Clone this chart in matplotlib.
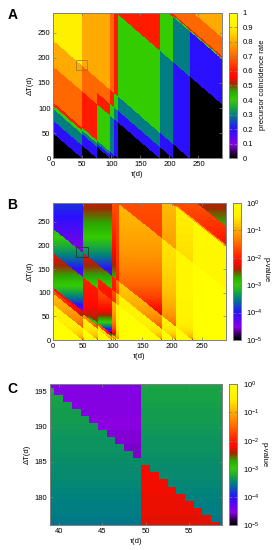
import numpy as np
import matplotlib
matplotlib.use('Agg')
import matplotlib.pyplot as plt
from matplotlib.colors import LinearSegmentedColormap, LogNorm, Normalize
from matplotlib.patches import Rectangle

plt.rcParams['font.family'] = ['Liberation Sans', 'DejaVu Sans']
plt.rcParams['mathtext.fontset'] = 'custom'
plt.rcParams['mathtext.rm'] = 'Liberation Sans'
plt.rcParams['mathtext.it'] = 'Liberation Sans'
plt.rcParams['mathtext.default'] = 'regular'

lags = [49.5, 75, 98, 105, 111, 183, 206, 234.5, 398, 488, 491, 494, 531]

# coincidence rate: row = how many lags lie below tau, column = how many lags lie below tau+dT
rate_table = [
    [0, .2, .3, .4, .6, .7, .8, .8, .9, .9, .9, .9, .9, .9],
    [0, 0, .2, .3, .4, .6, .7, .7, .8, .8, .8, .8, .8, .8],
    [0, 0, 0, .2, .3, .4, .6, .7, .8, .8, .8, .8, .8, .8],
    [0, 0, 0, 0, .2, .3, .4, .6, .7, .7, .7, .7, .7, .7],
    [0, 0, 0, 0, 0, .2, .3, .4, .6, .6, .6, .6, .6, .6],
    [0, 0, 0, 0, 0, 0, .2, .3, .4, .6, .6, .6, .6, .6],
    [0, 0, 0, 0, 0, 0, 0, .2, .3, .4, .6, .6, .6, .6],
    [0, 0, 0, 0, 0, 0, 0, 0, .2, .3, .4, .6, .7, .8],
    [0, 0, 0, 0, 0, 0, 0, 0, 0, .2, .4, .6, .7, .8],
]

# log10 p-value at dT = 200 d for each rate level, and how fast it grows for shorter windows
rate_levels = [0, .2, .3, .4, .6, .7, .8, .9]
logp_at_200 = [0, -0.25, -0.6, -1.1, -1.8, -2.1, -3.2, -4.45]
logp_exp = [0, 0.4, 0.5, 0.6, 0.2, 0.65, 0.8, 0.4]
dt_ref = 200.0

rate_ticks = [0, .1, .2, .3, .4, .5, .6, .7, .8, .9, 1]
rate_ticklabels = ['0', '0.1', '0.2', '0.3', '0.4', '0.5', '0.6', '0.7', '0.8', '0.9', '1']
p_ticks = [1e-5, 1e-4, 1e-3, 1e-2, 1e-1, 1]
p_ticklabels = ['$10^{-5}$', '$10^{-4}$', '$10^{-3}$', '$10^{-2}$', '$10^{-1}$', '$10^{0}$']

palette = LinearSegmentedColormap.from_list('pal', [
    (0.00, '#000000'), (0.04, '#300050'), (0.09, '#8a00e0'), (0.20, '#2a10ff'),
    (0.30, '#008080'), (0.40, '#33cc00'), (0.46, '#2aa800'), (0.51, '#a02800'),
    (0.56, '#ff0800'), (0.60, '#ff1a00'), (0.70, '#ff6600'), (0.80, '#ffaa00'),
    (0.90, '#fff000'), (1.00, '#ffff00')])

lag_arr = np.array(lags)
rt = np.array(rate_table)


def rate_field(tau, dT):
    ci = np.searchsorted(lag_arr, tau, side='left')
    bi = np.searchsorted(lag_arr, tau + dT, side='right')
    return rt[ci, bi]


def p_field(rate, dT):
    idx = np.searchsorted(np.array(rate_levels), rate - 1e-6)
    lp = np.array(logp_at_200)[idx] * (np.maximum(dT, 1) / dt_ref) ** (-np.array(logp_exp)[idx])
    return 10 ** np.clip(lp, -5, 0)


tau = np.arange(0, 290.5, 0.5)
dT = np.arange(0, 290.5, 0.5)
TT, DD = np.meshgrid(tau, dT)
R = rate_field(TT, DD)
P = p_field(R, DD)

tauc = np.arange(39, 60)
dTc = np.arange(176, 197)
TC, DC = np.meshgrid(tauc, dTc)
PC = p_field(rate_field(TC, DC), DC.astype(float))

fig = plt.figure(figsize=(2.74, 5.5), dpi=100)
fs = 5.5
grey = '#808080'


def style(ax):
    for s in ax.spines.values():
        s.set_color(grey)
        s.set_linewidth(0.7)
    ax.tick_params(direction='in', length=2, width=0.5, color=grey, labelsize=fs,
                   top=True, right=True, pad=2)


def style_cb(cax):
    for s in cax.spines.values():
        s.set_color(grey)
        s.set_linewidth(0.7)
    cax.tick_params(direction='in', length=2, width=0.5, color=grey, labelsize=fs,
                    left=True, right=True, labelright=True, labelleft=False, pad=4)


# ---- A
axA = fig.add_axes([0.1945, 0.7122, 0.6146, 0.2647])
imA = axA.pcolormesh(tau, dT, R, cmap=palette, norm=Normalize(0, 1), shading='nearest',
                     rasterized=True)
axA.set_xlim(0, 290)
axA.set_ylim(0, 290)
axA.set_xticks([0, 50, 100, 150, 200, 250])
axA.set_yticks([0, 50, 100, 150, 200, 250])
axA.add_patch(Rectangle((39, 176), 19.7, 20, fill=False, ec='#8a7050', lw=0.6, alpha=0.8))
style(axA)
axA.set_xlabel('τ(d)', fontsize=fs, labelpad=2)
axA.set_ylabel('ΔT(d)', fontsize=fs, labelpad=3)
caxA = fig.add_axes([0.8369, 0.7122, 0.027, 0.2647])
cbA = fig.colorbar(imA, cax=caxA)
cbA.set_ticks(rate_ticks)
cbA.set_ticklabels(rate_ticklabels)
cbA.outline.set_edgecolor(grey)
style_cb(caxA)
fig.text(0.957, 0.845, 'precursor coincidence rate', rotation=90, fontsize=fs,
         ha='center', va='center')
fig.text(0.047, 0.973, 'A', fontsize=10, fontweight='bold', ha='center', va='center')

# ---- B
axB = fig.add_axes([0.1945, 0.3818, 0.629, 0.2496])
imB = axB.pcolormesh(tau, dT, P, cmap=palette, norm=LogNorm(1e-5, 1), shading='nearest',
                     rasterized=True)
axB.set_xlim(0, 290)
axB.set_ylim(0, 290)
axB.set_xticks([0, 50, 100, 150, 200, 250])
axB.set_yticks([0, 50, 100, 150, 200, 250])
axB.add_patch(Rectangle((39, 176), 19.7, 20, fill=False, ec='#204030', lw=0.6))
style(axB)
axB.set_xlabel('τ(d)', fontsize=fs, labelpad=2)
axB.set_ylabel('ΔT(d)', fontsize=fs, labelpad=3)
caxB = fig.add_axes([0.849, 0.3818, 0.029, 0.2496])
cbB = fig.colorbar(imB, cax=caxB)
cbB.set_ticks(p_ticks)
cbB.set_ticklabels(p_ticklabels)
cbB.minorticks_off()
cbB.outline.set_edgecolor(grey)
style_cb(caxB)
fig.text(0.972, 0.51, 'p-value', rotation=270, fontsize=fs, ha='center', va='center')
fig.text(0.046, 0.627, 'B', fontsize=10, fontweight='bold', ha='center', va='center')

# ---- C
axC = fig.add_axes([0.1825, 0.0449, 0.6265, 0.2564])
imC = axC.pcolormesh(tauc, dTc, PC, cmap=palette, norm=LogNorm(1e-5, 1), shading='nearest',
                     rasterized=True)
axC.set_xlim(39, 58.7)
axC.set_ylim(176, 196)
axC.set_xticks([40, 45, 50, 55])
axC.set_yticks([180, 185, 190, 195])
style(axC)
axC.set_xlabel('τ(d)', fontsize=fs, labelpad=2)
axC.set_ylabel('ΔT(d)', fontsize=fs, labelpad=3)
caxC = fig.add_axes([0.837, 0.0449, 0.029, 0.2564])
cbC = fig.colorbar(imC, cax=caxC)
cbC.set_ticks(p_ticks)
cbC.set_ticklabels(p_ticklabels)
cbC.minorticks_off()
cbC.outline.set_edgecolor(grey)
style_cb(caxC)
fig.text(0.962, 0.173, 'p-value', rotation=270, fontsize=fs, ha='center', va='center')
fig.text(0.044, 0.292, 'C', fontsize=10, fontweight='bold', ha='center', va='center')

fig.savefig('out.png', dpi=100)
